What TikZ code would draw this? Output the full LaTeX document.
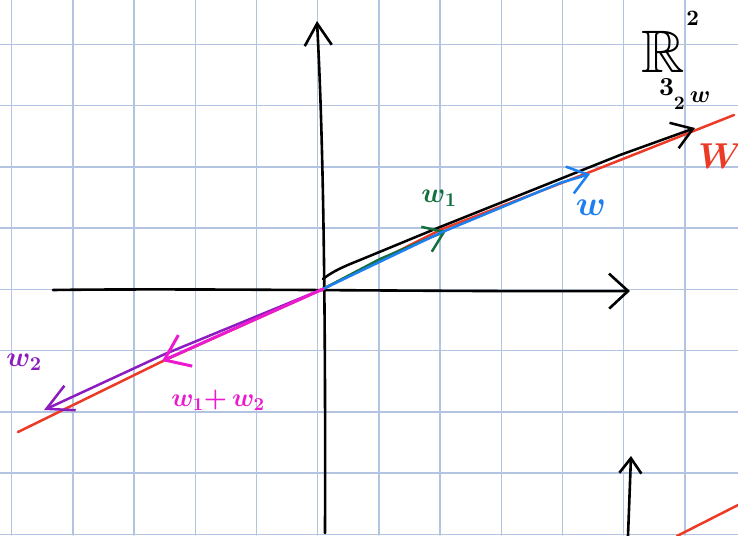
\documentclass[tikz,border=0pt]{standalone}
\usepackage{graphicx}
\usepackage{amsmath,amssymb}
\DeclareFontFamily{OML}{cmm}{\skewchar\font127 }
\DeclareFontShape{OML}{cmm}{m}{it}{<->cmmi10}{}
\DeclareFontShape{OML}{cmm}{b}{it}{<->cmmib10}{}
\DeclareFontFamily{OT1}{cmr}{\hyphenchar\font45 }
\DeclareFontShape{OT1}{cmr}{m}{n}{<->cmr10}{}
\DeclareFontShape{OT1}{cmr}{bx}{n}{<->cmbx10}{}
\DeclareFontFamily{OMS}{cmsy}{\skewchar\font48 }
\DeclareFontShape{OMS}{cmsy}{m}{n}{<->cmsy10}{}
\DeclareFontShape{OMS}{cmsy}{b}{n}{<->cmbsy10}{}
\usetikzlibrary{arrows.meta}
\definecolor{gridc}{RGB}{178,196,224}
\definecolor{wred}{RGB}{236,58,38}
\definecolor{wgreen}{RGB}{18,112,62}
\definecolor{wblue}{RGB}{28,128,240}
\definecolor{wpurple}{RGB}{140,28,192}
\definecolor{wmag}{RGB}{236,26,206}
\begin{document}
\begin{tikzpicture}[x=1pt,y=-1pt,line cap=round,line join=round,
  gridline/.style={draw=gridc,line width=1.4pt},
  axisline/.style={draw=black,line width=2.6pt},
  vecline/.style={line width=2.5pt},
  lab/.style={inner sep=0pt,outer sep=0pt}]
\useasboundingbox (0,0) rectangle (738,535);
\fill[white] (0,0) rectangle (738,535);
% grid
\foreach \i in {0,...,11} \draw[gridline] ({11.7+61.2*\i},0) -- ({11.7+61.2*\i},535);
\foreach \j in {0,...,8} \draw[gridline] (0,{44.3+61.25*\j}) -- (738,{44.3+61.25*\j});
% points
\coordinate (O) at (323,289);
\coordinate (Xs) at (53,290);
\coordinate (Xe) at (630,291);
\coordinate (Ys) at (325,533);
\coordinate (Ye) at (317,21);
\coordinate (Zs) at (628,536);
\coordinate (Ze) at (631,456);
\coordinate (Wl) at (18,432);
\coordinate (Wr) at (734,115);
\coordinate (Rs) at (677,536);
\coordinate (Re) at (740,504);
\coordinate (B0) at (323,279);
\coordinate (Bt) at (695,128);
\coordinate (Gt) at (446,231);
\coordinate (Ct) at (590,174);
\coordinate (Pt) at (44,410);
\coordinate (Mt) at (162,361);
% axes
\draw[axisline,-{Straight Barb[length=19pt,width=35pt]}] (Xs) .. controls (200,288) and (450,292) .. (Xe);
\draw[axisline,-{Straight Barb[length=22pt,width=27pt]}] (Ys) .. controls (326,200) and (320,80) .. (Ye);
\draw[axisline,-{Straight Barb[length=15pt,width=22pt]}] (Zs) -- (Ze);
% red line W
\draw[wred,vecline] (Wl) -- (163,361) -- (O) -- (440,230) -- (590,172) -- (Wr);
\draw[wred,vecline] (Rs) -- (Re);
% 3/2 w
\draw[black,vecline,-{Straight Barb[length=20pt,width=27pt]}] (B0) .. controls (333,271) and (345,266) .. (360,260) -- (440,227) -- (620,155) -- (Bt);
% w1
\draw[wgreen,vecline,-{Straight Barb[length=19pt,width=27pt]}] (O) -- (380,259) -- (Gt);
% w
\draw[wblue,vecline,-{Straight Barb[length=19pt,width=28pt]}] (O) -- (440,233) -- (560,183) -- (Ct);
% w2
\draw[wpurple,vecline,-{Straight Barb[length=26pt,width=27pt]}] (O) -- (165,354) -- (Pt);
% w1+w2
\draw[wmag,line width=3pt,-{Straight Barb[length=23pt,width=34pt]}] (O) -- (Mt);
% labels
\node[lab,wgreen,font=\fontsize{28}{28}\selectfont\boldmath] (lw1) at (439,198) {$w_1$};
\node[lab,wblue,font=\fontsize{35}{35}\selectfont\boldmath] (lw) at (591,208) {$w$};
\node[lab,wpurple,font=\fontsize{28}{28}\selectfont\boldmath] (lw2) at (24,362) {$w_2$};
\node[lab,wmag,font=\fontsize{26}{26}\selectfont\boldmath] (lw12) at (218,400) {$w_1{+}\,w_2$};
\node[lab,black,font=\fontsize{60}{60}\selectfont,anchor=base west] (lR) at (641,72) {$\mathbb{R}$\kern2pt\raisebox{47pt}{\scalebox{2.2}{\normalsize\bfseries 2}}};
\node[lab,black,anchor=base west] (l32) at (659,102) {\raisebox{6pt}{\scalebox{2.6}{\normalsize\bfseries 3}}\raisebox{-7pt}{\scalebox{1.9}{\normalsize\bfseries 2}}\kern5pt{\fontsize{24}{24}\selectfont\boldmath$w$}};
\node[lab,wred,font=\fontsize{36}{36}\selectfont\boldmath,anchor=west] (lW) at (698,156) {$W$};
\end{tikzpicture}
\end{document}
